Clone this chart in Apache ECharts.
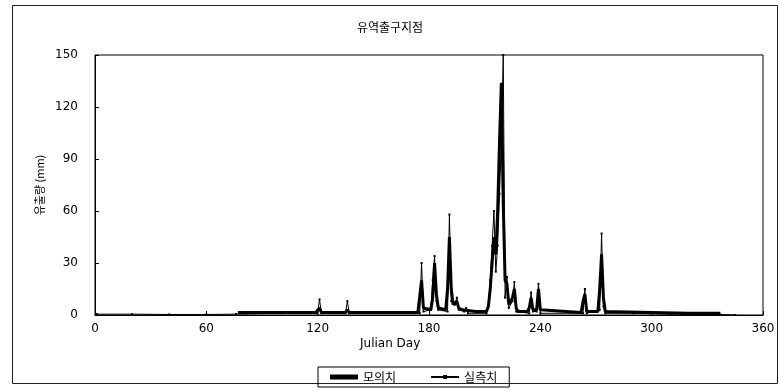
<!DOCTYPE html>
<html>
<head>
<meta charset="utf-8">
<script src="https://cdn.jsdelivr.net/npm/echarts@6/dist/echarts.min.js"></script>
<style>
  html, body { margin: 0; padding: 0; background: #fff; }
  #main { width: 780px; height: 391px; }
</style>
</head>
<body>
<div id="main"></div>
<script>
// 데이터 (Julian Day, 유출량 mm)
var xTicks = [0, 60, 120, 180, 240, 300, 360];
var yTicks = [0, 30, 60, 90, 120, 150];

// 모의치 (simulated)
var simulated = [
  [77,1.5],[119,1.5],[120,2],[121,4],[122,1.5],[135,1.5],[136,3],[137,1.5],[174,1.5],[175,2],
  [176,20],[177,4],[181,3],[182,10],[183,30],[184,12],[185,4],[186,3],[189,3],[190,15],
  [191,45],[192,15],[193,6],[194,6],[195,8],[196,4],[198,3],[205,2],[211,2],[212,5],
  [213,15],[214,30],[215,45],[216,35],[217,60],[218,100],[219,134],[220,65],[221,20],[222,18],
  [223,6],[224,5],[225,10],[226,15],[227,4],[228,2],[233,2],[234,4],[235,10],[236,3],
  [238,3],[239,15],[240,3],[241,2],[262,1.5],[263,8],[264,12],[265,2],[271,2],[272,15],
  [273,35],[274,10],[275,2],[300,1.5],[320,1],[337,1]
];

// 실측치 (observed)
var observed = [
  [1,0.5],[20,0.5],[40,0.3],[60,0.3],[76,0.5],[100,1],[120,1],[121,9],[122,1],[135,1],
  [136,8],[137,1],[175,1],[176,30],[177,2],[181,3],[182,20],[183,34],[184,8],[185,3],
  [190,2],[191,58],[192,8],[194,6],[195,10],[196,3],[199,2],[200,4],[201,1],[211,1],
  [212,6],[213,20],[214,40],[215,60],[216,25],[217,40],[218,70],[219,100],[220,150],[221,10],
  [222,22],[223,4],[225,8],[226,19],[227,2],[234,1],[235,13],[236,2],[238,2],[239,18],
  [240,1],[263,1],[264,15],[265,1],[272,3],[273,47],[274,5],[275,1],[290,1],[310,0.5],
  [337,0.3],[345,0]
];

var myChart = echarts.init(document.getElementById('main'));

var font = '"Noto Sans CJK KR", "DejaVu Sans", sans-serif';

option = {
  backgroundColor: '#fff',
  animation: false,
  textStyle: { fontFamily: font, color: '#000' },
  grid: {
    left: 95, right: 17, top: 55, bottom: 76,
    show: true, borderColor: '#000', borderWidth: 1
  },
  graphic: [
    { type: 'rect', left: 10, top: 3, shape: { width: 765, height: 378 },
      style: { fill: null, stroke: '#222', lineWidth: 1 }, silent: true, z: -1 },
    { type: 'text', left: 'center', top: 21,
      style: { text: '유역출구지점', font: '12px ' + font, fill: '#000' } },
    { type: 'text', left: 360, top: 338,
      style: { text: 'Julian Day', font: '12px "DejaVu Sans", sans-serif', fill: '#000' } },
    { type: 'text', x: 40, y: 185, rotation: Math.PI / 2,
      style: { text: '유출량 (mm)', font: '11px ' + font, fill: '#000', align: 'center', verticalAlign: 'middle' } }
  ],
  legend: {
    left: 318, top: 367,
    itemWidth: 28, itemHeight: 5, itemGap: 34,
    padding: [4, 12, 4, 12],
    borderColor: '#000', borderWidth: 1,
    textStyle: { fontFamily: font, fontSize: 12, color: '#000' },
    data: [
      { name: '모의치', icon: 'rect', itemStyle: { color: '#000' } },
      { name: '실측치' }
    ]
  },
  xAxis: {
    type: 'value',
    min: 0, max: 360, interval: 60,
    axisLine: { lineStyle: { color: '#000' } },
    axisTick: { inside: true, length: 4, lineStyle: { color: '#000' } },
    axisLabel: { color: '#000', fontSize: 12, margin: 8, fontFamily: '"DejaVu Sans", sans-serif',
      formatter: function (v) { return xTicks.indexOf(v) >= 0 ? String(v) : ''; } },
    splitLine: { show: false }
  },
  yAxis: {
    type: 'value',
    min: 0, max: 150, interval: 30,
    axisLine: { show: true, lineStyle: { color: '#000' } },
    axisTick: { show: true, inside: true, length: 4, lineStyle: { color: '#000' } },
    axisLabel: { color: '#000', fontSize: 12, margin: 17, fontFamily: '"DejaVu Sans", sans-serif',
      formatter: function (v) { return yTicks.indexOf(v) >= 0 ? String(v) : ''; } },
    splitLine: { show: false }
  },
  series: [
    {
      name: '모의치',
      type: 'line',
      data: simulated,
      showSymbol: false,
      symbol: 'none',
      lineStyle: { color: '#000', width: 3 },
      itemStyle: { color: '#000' },
      z: 2
    },
    {
      name: '실측치',
      type: 'line',
      data: observed,
      symbol: 'rect',
      symbolSize: 2,
      lineStyle: { color: '#000', width: 1 },
      itemStyle: { color: '#000' },
      z: 3
    }
  ]
};

myChart.setOption(option);
</script>
</body>
</html>
